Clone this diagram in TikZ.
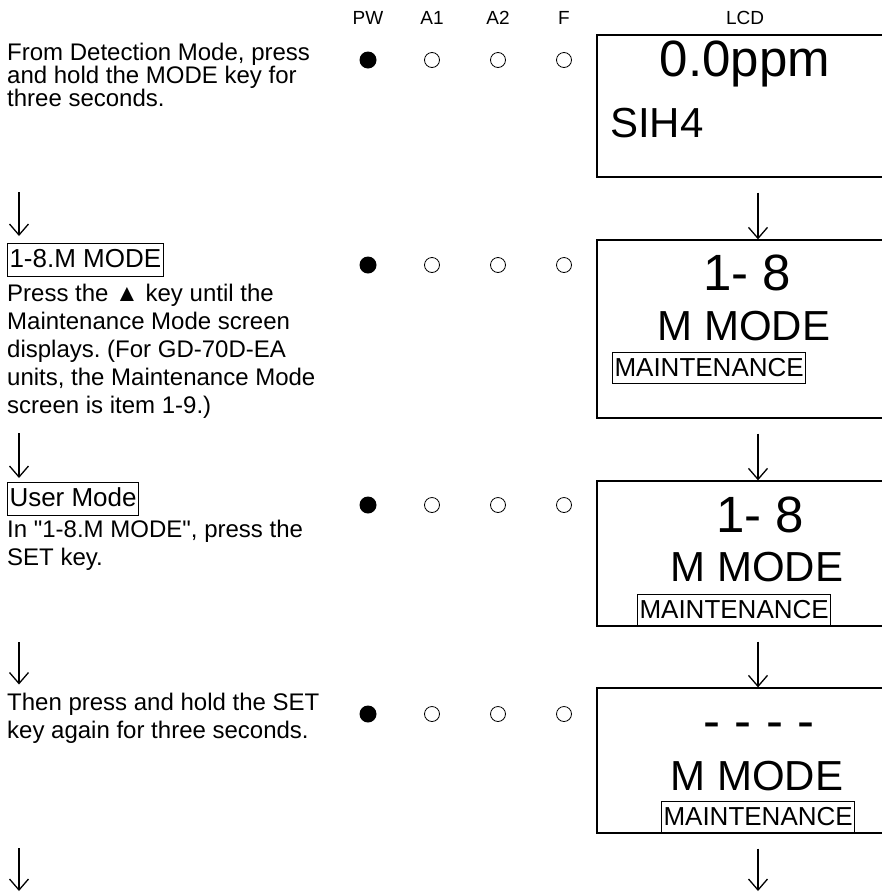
\documentclass[tikz,border=0pt]{standalone}
\usepackage{fontspec}
\setmainfont{Liberation Sans}[Ligatures=TeXOff]
\usetikzlibrary{arrows.meta}
\definecolor{ink}{HTML}{000000}
\frenchspacing

\begin{document}
\begin{tikzpicture}[x=1pt, y=-1pt,
        every node/.style={text=ink},
        hdr/.style={font=\fontsize{19}{21}\selectfont},
        note/.style={
          anchor=north west, align=left, inner sep=0pt,
          font=\fontsize{24}{28}\selectfont,
        },
        keybox/.style={
          draw=ink, line width=1pt,
          inner xsep=2pt, inner ysep=2pt,
          text height=22pt, text depth=7pt,
          font=\fontsize{26}{28}\selectfont,
        },
        ledon/.style={circle, fill=ink, minimum size=17pt, inner sep=0pt},
        ledoff/.style={circle, draw=ink, line width=0.8pt, minimum size=15pt, inner sep=0pt},
        lcd/.style={draw=ink, line width=1.3pt, minimum width=322pt},
        lcdbig/.style={anchor=base, inner sep=0pt, font=\fontsize{51}{54}\selectfont},
        lcdmid/.style={anchor=base, inner sep=0pt, font=\fontsize{42}{44}\selectfont},
        arr/.style={draw=ink, line width=1.3pt, -{Straight Barb[length=11pt,width=19pt]}},
      ]
      \useasboundingbox (0,0) rectangle (882,892);
      \fill[white] (0,0) rectangle (882,892);
      \clip (0,0) rectangle (882,892);

      \node[hdr] (hpw) at (368,18) {PW};
      \node[hdr] (ha1) at (432,18) {A1};
      \node[hdr] (ha2) at (498,18) {A2};
      \node[hdr] (hf)  at (564,18) {F};
      \node[hdr] (hlcd) at (745,18) {LCD};

      \foreach \r/\y in {1/60, 2/265, 3/505, 4/714} {
        \node[ledon]  (pw\r)   at (368,\y) {};
        \node[ledoff] (aone\r) at (432,\y) {};
        \node[ledoff] (atwo\r) at (498,\y) {};
        \node[ledoff] (f\r)    at (564,\y) {};
      }

      \node[note, font=\fontsize{24}{23}\selectfont] (s1) at (7,42.5)
        {From Detection Mode, press\\and hold the MODE key for\\three seconds.};
      \node[keybox, anchor=north west] (k2) at (7,243) {1-8.M MODE};
      \node[note] (s2) at (7,283.5)
        {Press the ▲ key until the\\Maintenance Mode screen\\displays. (For GD-70D-EA\\units, the Maintenance Mode\\screen is item 1-9.)};
      \node[keybox, anchor=north west] (k3) at (7,482) {User Mode};
      \node[note] (s3) at (7,519.5) {In "1-8.M MODE", press the\\SET key.};
      \node[note] (s4) at (7,692.5) {Then press and hold the SET\\key again for three seconds.};

      \node[lcd, minimum height=142pt] (lcd1) at (758,106) {};
      \node[lcd, minimum height=178pt] (lcd2) at (758,329) {};
      \node[lcd, minimum height=145pt] (lcd3) at (758,553.5) {};
      \node[lcd, minimum height=145pt] (lcd4) at (758,760.5) {};

      \node[lcdbig] (ppm) at (745,76) {0.0ppm};
      \node[lcdmid, anchor=base west] (gas) at (610,137) {SIH4};
      \node[lcdbig] (no2) at (747,290) {1- 8};
      \node[lcdmid] (mm2) at (744,340) {M MODE};
      \node[keybox, anchor=south west, text depth=5pt] (mt2) at (612,384) {MAINTENANCE};
      \node[lcdbig] (no3) at (760,532) {1- 8};
      \node[lcdmid] (mm3) at (757,581) {M MODE};
      \node[keybox, anchor=south west, text depth=5pt] (mt3) at (637,626) {MAINTENANCE};
      \node[lcdbig] (dash4) at (759,738) {- - - -};
      \node[lcdmid] (mm4) at (757,790) {M MODE};
      \node[keybox, anchor=south west, text depth=5pt] (mt4) at (661,833) {MAINTENANCE};

      \coordinate (l1) at (19,192);
      \coordinate (l2) at (19,433);
      \coordinate (l3) at (19,642);
      \coordinate (l4) at (19,848);
      \coordinate (l5) at (19,891);
      \coordinate (r5) at (758,891);

      \draw[arr, shorten >=7pt] (l1) -- (l1 |- k2.north);
      \draw[arr, shorten >=4pt] (l2) -- (l2 |- k3.north);
      \draw[arr, shorten >=8pt] (l3) -- (l3 |- s4.north);
      \draw[arr] (l4) -- (l5);

      \draw[arr] ([yshift=-15pt]lcd1.south) -- (lcd2.north);
      \draw[arr] ([yshift=-15pt]lcd2.south) -- (lcd3.north);
      \draw[arr] ([yshift=-15pt]lcd3.south) -- (lcd4.north);
      \draw[arr] ([yshift=-15pt]lcd4.south) -- (r5);
    \end{tikzpicture}
\end{document}
